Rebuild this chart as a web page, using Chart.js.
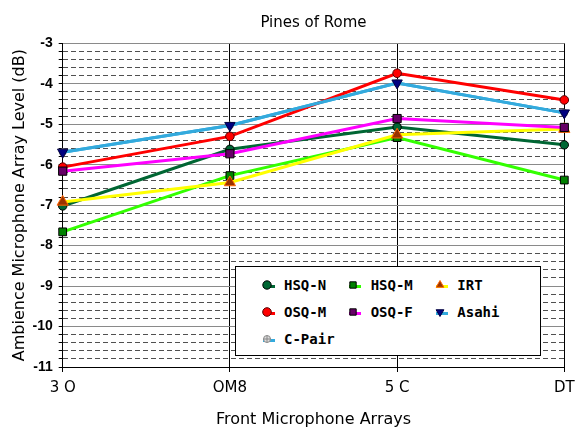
<!DOCTYPE html>
<html>
<head>
<meta charset="utf-8">
<script src="https://cdn.jsdelivr.net/npm/chart.js@4.4.1/dist/chart.umd.min.js"></script>
<style>
  html, body { margin: 0; padding: 0; background: #fff; }
  #wrap { position: relative; width: 577px; height: 428px; }
  #legend { position: absolute; left: 235px; top: 266px; width: 306px; height: 90px; box-sizing: border-box;
            border: 1px solid #000; background: #fff; }
  .li { position: absolute; height: 16px; }
  .lt { position: absolute; font-family: "DejaVu Sans Mono", monospace; font-weight: bold; font-size: 14px;
        line-height: 16px; color: #000; white-space: nowrap; }
</style>
</head>
<body>
<div id="wrap">
  <canvas id="c" width="577" height="428"></canvas>
  <div id="legend"></div>
</div>
<script>
// ---- data ----
const categories = ['3 O', 'OM8', '5 C', 'DT'];
const seriesNames = ['HSQ-N', 'HSQ-M', 'IRT', 'OSQ-M', 'OSQ-F', 'Asahi', 'C-Pair'];
const hsqN  = [-7.02, -5.62, -5.07, -5.51];
const hsqM  = [-7.66, -6.27, -5.33, -6.38];
const irt   = [-6.92, -6.44, -5.26, -5.12];
const osqM  = [-6.06, -5.30, -3.74, -4.40];
const osqF  = [-6.16, -5.73, -4.86, -5.08];
const asahi = [-5.69, -5.03, -3.98, -4.72];
const cPair = [-5.69, -5.03, -3.98, -4.72];
const yMin = -11, yMax = -3, yStep = 0.2;

// ---- styles ----
const styles = [
  { line: '#006633', fill: '#006633', border: '#000000', shape: 'circle',   r: 4.2, rot: 0,   order: 7 },
  { line: '#33ff00', fill: '#008000', border: '#000000', shape: 'rect',     r: 5.5, rot: 0,   order: 6 },
  { line: '#ffff00', fill: '#993300', border: '#ff6600', shape: 'triangle', r: 6.5, rot: 0,   order: 5 },
  { line: '#ff0000', fill: '#ff0000', border: '#550000', shape: 'circle',   r: 4.3, rot: 0,   order: 4 },
  { line: '#ff00ff', fill: '#660066', border: '#000000', shape: 'rect',     r: 5.8, rot: 0,   order: 3 },
  { line: '#33aadd', fill: '#000080', border: '#000040', shape: 'triangle', r: 6,   rot: 180, order: 2 },
  { line: '#33aadd', fill: '#dddddd', border: '#888888', shape: 'crossRot', r: 3.5, rot: 0,   order: 8 }
];
const values = [hsqN, hsqM, irt, osqM, osqF, asahi, cPair];

const datasets = values.map((v, i) => ({
  label: seriesNames[i],
  data: v,
  borderColor: styles[i].line,
  borderWidth: 3,
  backgroundColor: styles[i].fill,
  pointBackgroundColor: styles[i].fill,
  pointBorderColor: styles[i].border,
  pointBorderWidth: 1,
  pointStyle: styles[i].shape === 'crossRot' ? 'circle' : styles[i].shape,
  pointRotation: styles[i].rot,
  pointRadius: styles[i].r,
  pointHoverRadius: styles[i].r,
  tension: 0,
  fill: false,
  order: styles[i].order
}));

const isInt = v => Math.abs(v - Math.round(v)) < 1e-6;

new Chart(document.getElementById('c'), {
  type: 'line',
  data: { labels: categories, datasets },
  options: {
    responsive: false,
    devicePixelRatio: 1,
    animation: false,
    layout: { padding: { left: 0, right: 0, top: 0, bottom: 0 } },
    plugins: {
      legend: { display: false },
      tooltip: { enabled: false },
      title: {
        display: true,
        fullSize: false,
        text: 'Pines of Rome',
        color: '#000',
        font: { family: 'DejaVu Sans', size: 15, weight: 'normal', lineHeight: 1.2 },
        padding: { top: 14, bottom: 11.3 }
      }
    },
    scales: {
      x: {
        type: 'category',
        offset: false,
        grid: { color: '#000', lineWidth: 1, tickColor: '#000', tickLength: 5, offset: false },
        border: { color: '#000', width: 1 },
        ticks: { color: '#000', font: { family: 'DejaVu Sans', size: 15 }, padding: 7, maxRotation: 0, autoSkip: false },
        title: {
          display: true, text: 'Front Microphone Arrays', color: '#000',
          font: { family: 'DejaVu Sans', size: 16, lineHeight: 1 },
          padding: { top: 0, bottom: 0 }
        },
        afterFit: s => { s.height = 61; s.paddingRight = 12.7; s.paddingLeft = 0; }
      },
      y: {
        type: 'linear',
        min: yMin, max: yMax,
        grid: {
          color: ctx => (ctx.tick && isInt(ctx.tick.value)) ? '#8a8a8a' : '#505050',
          lineWidth: 1, tickColor: '#000', tickLength: 4
        },
        border: {
          color: '#000', width: 1,
          dash: ctx => (ctx.tick && !isInt(ctx.tick.value)) ? [5, 3] : []
        },
        ticks: {
          stepSize: yStep, autoSkip: false, color: '#000', padding: 6,
          font: { family: 'Liberation Sans', size: 14, weight: 'bold' },
          callback: v => isInt(v) ? String(Math.round(v)) : ''
        },
        title: {
          display: true, text: 'Ambience Microphone Array Level (dB)', color: '#000',
          font: { family: 'DejaVu Sans', size: 16, lineHeight: 1 },
          padding: { top: 12, bottom: 0 }
        },
        afterFit: s => { s.width = 62.7; }
      }
    }
  }
});

// ---- legend (HTML text, drawn markers) ----
const legend = document.getElementById('legend');
function drawMarker(ctx, st, x, y, r) {
  ctx.fillStyle = st.fill;
  ctx.strokeStyle = st.border;
  ctx.lineWidth = 1;
  if (st.shape === 'crossRot') {
    ctx.beginPath(); ctx.arc(x, y, r, 0, Math.PI * 2); ctx.fill(); ctx.stroke();
    ctx.beginPath(); ctx.moveTo(x - r, y); ctx.lineTo(x + r, y); ctx.moveTo(x, y - r); ctx.lineTo(x, y + r); ctx.stroke();
    return;
  }
  if (Chart.helpers && Chart.helpers.drawPoint) {
    Chart.helpers.drawPoint(ctx, { pointStyle: st.shape, rotation: st.rot, radius: r, borderWidth: 1 }, x, y);
  } else {
    ctx.beginPath(); ctx.arc(x, y, r, 0, Math.PI * 2); ctx.fill(); ctx.stroke();
  }
}
seriesNames.forEach((name, i) => {
  const col = i % 3, row = Math.floor(i / 3);
  const st = styles[i];
  const cv = document.createElement('canvas');
  cv.width = 24; cv.height = 16; cv.className = 'li';
  cv.style.left = (20.7 + col * 86.65) + 'px';
  cv.style.top = (9.5 + row * 27) + 'px';
  const c = cv.getContext('2d');
  c.strokeStyle = st.line; c.lineWidth = 3;
  c.beginPath(); c.moveTo(6, 9.5); c.lineTo(18, 9.5); c.stroke();
  drawMarker(c, st, 10, 8, Math.min(st.r, 4.5));
  legend.appendChild(cv);
  const t = document.createElement('span');
  t.className = 'lt';
  t.textContent = name;
  t.style.left = (48 + col * 86.65) + 'px';
  t.style.top = (9.5 + row * 27) + 'px';
  legend.appendChild(t);
});
</script>
</body>
</html>
